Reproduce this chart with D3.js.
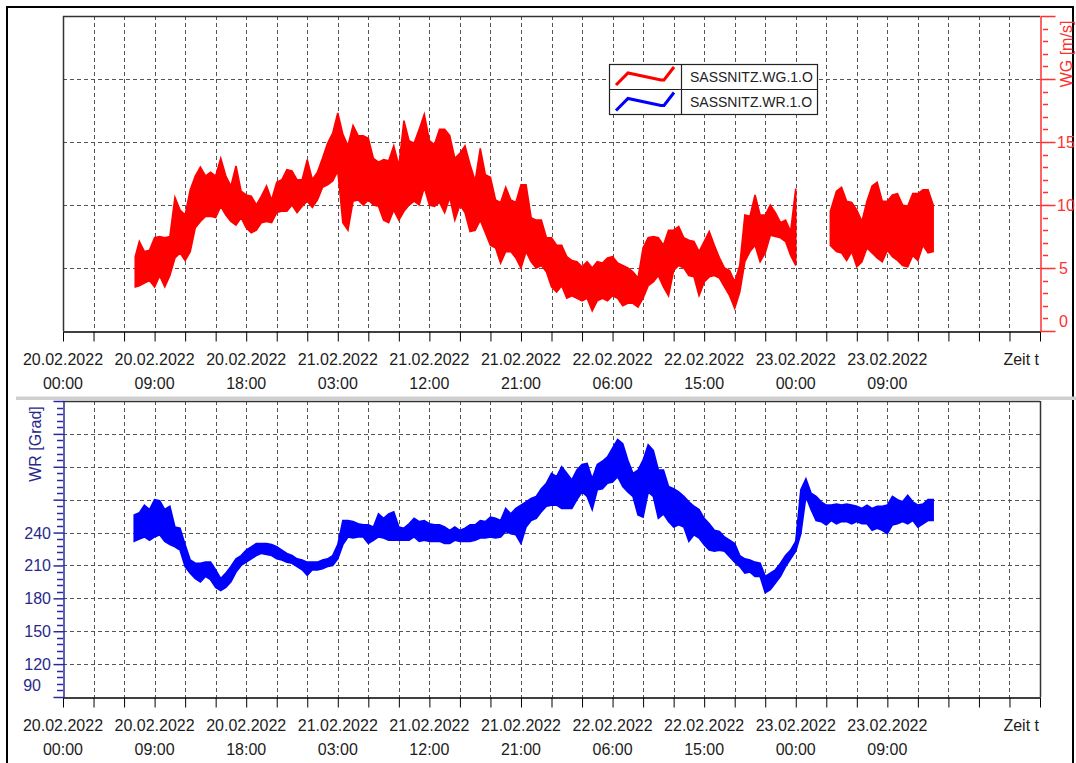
<!DOCTYPE html>
<html><head><meta charset="utf-8">
<script src="https://cdn.jsdelivr.net/npm/d3@7"></script>
<style>
html,body{margin:0;padding:0;background:#fff;}
svg{display:block;font-family:"Liberation Sans",Arial,sans-serif;}
</style></head><body>
<svg id="c" width="1076" height="763"></svg>
<script>
// ---------- DATA (hours after 20.02.2022 00:00) ----------
const seriesNames = ["SASSNITZ.WG.1.O", "SASSNITZ.WR.1.O"];
const axisTitles = ["WG [m/s]", "WR [Grad]"];
const xAxisTitle = "Zeit t";

const wgHours = [7.1,7.5,8,8.5,9,9.5,10,10.5,11,11.5,12,12.5,13,13.5,14,14.5,15,15.5,16,16.5,17,17.5,18,18.5,19,19.5,20,20.5,21,21.5,22,22.5,23,23.5,24,24.5,25,25.5,26,26.5,27,27.5,28,28.5,29,29.5,30,30.5,31,31.5,32,32.5,33,33.5,34,34.5,35,35.5,36,36.5,37,37.5,38,38.5,39,39.5,40,40.5,41,41.5,42,42.5,43,43.5,44,44.5,45,45.5,46,46.5,47,47.5,48,48.5,49,49.5,50,50.5,51,51.5,52,52.5,53,53.5,54,54.5,55,55.5,56,56.5,57,57.5,58,58.5,59,59.5,60,60.5,61,61.5,62,62.5,63,63.5,64,64.5,65,65.5,66,66.5,67,67.5,68,68.5,69,69.5,70,70.5,71,71.5,72,73,75.4,76,76.5,77,77.5,78,78.5,79,79.5,80,80.5,81,81.5,82,82.5,83,83.5,84,84.5,85,85.5];
const wgHigh = [5.9,7.1,6.3,6.4,7.4,7.5,7.4,7.5,10.6,9.6,9.2,11.2,12.3,13.0,12.3,12.6,12.3,13.7,12.3,11.5,13.1,11.1,10.8,10.7,10.0,10.7,11.5,10.4,11.8,12.0,12.8,12.7,12.0,12.0,13.6,12.0,12.6,13.7,14.9,15.7,17.3,15.6,14.7,16.3,15.5,15.5,15.3,13.7,13.4,13.6,13.5,14.7,13.1,16.7,15.1,14.9,16.0,17.2,15.1,14.8,16.0,16.0,15.5,13.7,14.1,14.7,13.2,11.9,14.5,12.4,12.2,10.4,10.2,11.4,10.4,10.2,11.6,11.6,9.0,8.8,8.8,7.4,7.4,6.8,6.8,5.9,5.6,5.5,5.1,5.5,5.0,5.5,5.4,5.8,5.9,5.4,5.2,5.0,4.7,4.2,6.6,7.4,7.5,7.4,6.8,8.0,8.0,8.3,7.4,7.2,7.1,6.3,7.1,7.9,6.8,5.8,5.0,4.8,3.9,5.2,9.2,9.1,10.8,9.2,9.2,10.0,9.4,8.6,8.8,7.9,11.3,null,9.5,11.1,11.4,10.3,10.2,9.6,8.7,10.3,11.5,11.8,10.3,10.3,10.8,10.9,10.0,9.9,10.9,10.9,11.2,11.2,10.0];
const wgLow = [3.5,3.6,3.8,4.0,3.5,4.4,3.5,4.4,5.8,6.2,5.6,6.3,8.2,8.7,9.1,9.1,9.0,9.9,9.2,8.7,8.4,9.0,8.2,7.8,8.0,8.6,8.7,8.6,9.4,9.5,9.5,10.0,9.4,9.9,10.3,9.8,10.4,11.4,11.6,11.9,12.7,8.6,8.0,10.3,10.4,10.0,10.4,10.0,9.9,8.8,8.6,9.6,8.8,9.5,10.0,10.3,10.0,11.4,10.0,9.9,10.2,9.4,10.6,8.8,10.0,9.4,7.9,8.0,8.8,7.8,6.8,6.6,5.4,6.3,6.3,5.8,5.0,6.3,5.5,5.0,5.2,4.7,3.5,3.1,3.6,2.6,2.8,2.6,2.4,2.6,1.6,2.4,2.6,2.4,2.8,2.6,2.0,2.2,2.2,1.9,2.6,3.6,3.9,4.4,3.5,2.8,4.8,5.2,5.0,4.4,4.3,2.8,3.9,4.3,4.4,4.2,3.5,2.8,1.8,3.1,5.5,6.3,6.8,5.5,6.2,7.6,7.5,7.4,7.1,6.0,5.2,null,6.8,6.3,6.2,5.6,6.3,5.1,5.5,6.6,6.2,5.8,5.5,6.4,5.9,5.6,5.2,5.1,6.0,5.6,6.8,6.2,6.3];

const wrHours = [7,7.5,8,8.5,9,9.5,10,10.5,11,11.5,12,12.5,13,13.5,14,14.5,15,15.5,16,16.5,17,17.5,18,18.5,19,19.5,20,20.5,21,21.5,22,22.5,23,23.5,24,24.5,25,25.5,26,26.5,27,27.5,28,28.5,29,29.5,30,30.5,31,31.5,32,32.5,33,33.5,34,34.5,35,35.5,36,36.5,37,37.5,38,38.5,39,39.5,40,40.5,41,41.5,42,42.5,43,43.5,44,44.5,45,45.5,46,46.5,47,47.5,48,48.5,49,49.5,50,50.5,51,51.5,52,52.5,53,53.5,54,54.5,55,55.5,56,56.5,57,57.5,58,58.5,59,59.5,60,60.5,61,61.5,62,62.5,63,63.5,64,64.5,65,65.5,66,66.5,67,67.5,68,68.5,69,69.5,70,70.5,71,71.5,72,72.5,73,73.5,74,74.5,75,75.5,76,76.5,77,77.5,78,78.5,79,79.5,80,80.5,81,81.5,82,82.5,83,83.5,84,84.5,85,85.5];
const wrHigh = [256,258,265,261,270,269,261,264,245,244,229,215,212,212,213,213,206,198,203,209,216,219,224,227,230,230,230,229,227,224,221,219,216,215,213,213,213,215,216,219,229,251,251,250,248,247,247,245,257,253,257,259,245,244,248,253,250,251,248,247,247,245,242,245,242,244,247,247,251,250,254,253,251,262,257,262,265,268,271,273,280,285,294,291,300,294,288,297,302,303,289,302,305,309,317,325,321,306,294,297,306,320,315,297,297,282,280,277,273,268,264,261,253,248,242,241,236,233,230,219,216,215,213,212,200,203,206,212,219,224,232,279,289,276,273,268,265,265,266,265,266,265,264,262,265,262,264,264,265,273,270,268,274,268,265,266,270,270];
const wrLow = [232,234,236,233,236,238,232,229,227,224,209,203,198,195,200,197,190,187,190,195,204,210,213,216,219,221,220,219,216,215,213,212,209,206,201,206,206,207,209,210,216,229,236,235,236,236,230,233,236,235,233,233,233,233,233,236,232,233,232,232,232,230,230,233,232,232,232,233,235,235,236,235,236,241,239,238,230,245,251,253,259,264,265,265,262,262,262,270,277,273,261,279,280,285,286,291,282,277,273,256,254,277,273,253,257,250,245,247,245,232,238,235,229,224,223,224,223,218,213,209,203,204,200,200,185,188,194,200,209,216,223,239,273,261,251,250,247,251,248,250,250,248,250,248,248,242,244,242,239,247,248,250,248,251,245,248,251,251];

const wgTicks = [0,5,10,15,20,25];
const wgLabelTicks = [0,5,10,15];
const wrTicks = [90,120,150,180,210,240,270,300,330,360];
const wrLabelTicks = [90,120,150,180,210,240];
const xTickStepHours = 3;
const xLabelStepHours = 9;
const xSpanHours = 96;

// ---------- LAYOUT ----------
const svg = d3.select("#c");
const L = 63, R = 1040;
const top1 = 16, bot1 = 331;
const top2 = 401, bot2 = 697;
const red = "#ff0000", redAx = "#ff3030";
const blue = "#0000ff", blueAx = "#2a2aa0", blueTx = "#28288c";
const gridC = "#555", txt = "#1c1c1c";

const t0 = Date.UTC(2022, 1, 20, 0, 0);
const hd = h => new Date(t0 + h * 3600e3);
const x = d3.scaleUtc().domain([hd(0), hd(xSpanHours)]).range([L, R]);
const yWG = d3.scaleLinear().domain([0, 25]).range([bot1, top1]);
const yWR = d3.scaleLinear().domain([90, 360]).range([bot2, top2]);

// outer frame
svg.append("path").attr("d", "M7,763 V7 H1073 V763").attr("fill", "none").attr("stroke", "#000").attr("stroke-width", 2);
// splitter
svg.append("rect").attr("x", 16).attr("y", 396.5).attr("width", 1060).attr("height", 3.5).attr("fill", "#cfcfcf");

const xTickDates = d3.utcHour.every(xTickStepHours).range(hd(0), hd(xSpanHours + 0.01));
const fmtD = d3.utcFormat("%d.%m.%Y"), fmtT = d3.utcFormat("%H:%M");

function drawPanel(yScale, yTop, yBot, gridVals) {
  const g = svg.append("g");
  // horizontal grid
  g.selectAll(".hg").data(gridVals).join("line")
    .attr("x1", L).attr("x2", R)
    .attr("y1", d => Math.round(yScale(d)) + 0.5).attr("y2", d => Math.round(yScale(d)) + 0.5)
    .attr("stroke", gridC).attr("stroke-dasharray", "4,3");
  // vertical grid
  g.selectAll(".vg").data(xTickDates.slice(1, -1)).join("line")
    .attr("x1", d => Math.round(x(d)) + 0.5).attr("x2", d => Math.round(x(d)) + 0.5)
    .attr("y1", yTop).attr("y2", yBot)
    .attr("stroke", gridC).attr("stroke-dasharray", "4,3");
  // x axis
  const ax = d3.axisBottom(x).tickValues(xTickDates).tickSize(10).tickSizeOuter(0).tickFormat("");
  const ga = svg.append("g").attr("transform", `translate(0,${yBot + 0.5})`).call(ax);
  ga.select(".domain").attr("stroke", "#000").attr("stroke-width", 1.5);
  ga.selectAll(".tick line").attr("stroke", "#000");
  const labs = xTickDates.filter(d => ((d - t0) / 3600e3) % xLabelStepHours === 0 && (d - t0) / 3600e3 < 90);
  const tl = svg.append("g").attr("font-size", 16).attr("fill", txt).attr("text-anchor", "middle");
  tl.selectAll("text.d").data(labs).join("text").attr("x", d => x(d)).attr("y", yBot + 34).text(d => fmtD(d));
  tl.selectAll("text.t").data(labs).join("text").attr("x", d => x(d)).attr("y", yBot + 58).text(d => fmtT(d));
  svg.append("text").attr("x", R - 1).attr("y", yBot + 34).attr("text-anchor", "end")
    .attr("font-size", 16).attr("fill", txt).text(xAxisTitle);
  // top border
  svg.append("line").attr("x1", L).attr("x2", R).attr("y1", yTop + 0.5).attr("y2", yTop + 0.5)
    .attr("stroke", "#333").attr("stroke-width", 1.5);
}

drawPanel(yWG, top1, bot1, [5, 10, 15, 20]);
drawPanel(yWR, top2, bot2, [120, 150, 180, 210, 240, 270, 300, 330]);

// top panel left border, bottom panel right border
svg.append("line").attr("x1", L + 0.5).attr("x2", L + 0.5).attr("y1", top1).attr("y2", bot1).attr("stroke", "#333").attr("stroke-width", 1.5);
svg.append("line").attr("x1", R + 0.5).attr("x2", R + 0.5).attr("y1", top2).attr("y2", bot2).attr("stroke", "#333").attr("stroke-width", 1.5);

// ---------- DATA BANDS ----------
function band(hours, lo, hi, ys, color) {
  const pts = hours.map((h, i) => ({ t: hd(h), lo: lo[i], hi: hi[i] }));
  const area = d3.area().defined(d => d.lo != null && d.hi != null)
    .x(d => x(d.t)).y0(d => ys(d.lo)).y1(d => ys(d.hi)).curve(d3.curveLinear);
  svg.append("path").datum(pts).attr("d", area)
    .attr("fill", color).attr("stroke", color).attr("stroke-width", 1.6).attr("stroke-linejoin", "miter");
}
band(wgHours, wgLow, wgHigh, yWG, red);
band(wrHours, wrLow, wrHigh, yWR, blue);

// ---------- WG right axis ----------
const gR = svg.append("g").attr("transform", `translate(${R + 0.5},0)`);
gR.call(d3.axisRight(yWG).tickValues(wgTicks).tickSize(15).tickSizeOuter(0).tickFormat(""));
gR.select(".domain").attr("stroke", redAx).attr("stroke-width", 1.5);
gR.selectAll(".tick line").attr("stroke", redAx).attr("stroke-width", 1.5);
const wgMinor = d3.range(1, 25).filter(v => v % 5 !== 0);
svg.append("g").selectAll("line").data(wgMinor).join("line")
  .attr("x1", R + 3).attr("x2", R + 8)
  .attr("y1", d => Math.round(yWG(d)) + 0.5).attr("y2", d => Math.round(yWG(d)) + 0.5)
  .attr("stroke", redAx).attr("stroke-width", 1.5);
svg.append("g").attr("font-size", 16).attr("fill", redAx)
  .selectAll("text").data(wgLabelTicks).join("text")
  .attr("x", d => d < 10 ? 1059 : 1057)
  .attr("y", d => d === 0 ? yWG(d) - 4 : yWG(d) + 6)
  .text(d => d);
svg.append("text").attr("transform", "translate(1072,54) rotate(-90)").attr("text-anchor", "middle")
  .attr("font-size", 16).attr("fill", redAx).text(axisTitles[0]);

// ---------- WR left axis ----------
const gL = svg.append("g").attr("transform", `translate(${L + 0.5},0)`);
gL.call(d3.axisLeft(yWR).tickValues(wrTicks).tickSize(10).tickSizeOuter(0).tickFormat(""));
gL.select(".domain").attr("stroke", blueAx).attr("stroke-width", 1.5);
gL.selectAll(".tick line").attr("stroke", blueAx).attr("stroke-width", 1.5);
const wrMinor = d3.range(96, 360, 6).filter(v => v % 30 !== 0);
svg.append("g").selectAll("line").data(wrMinor).join("line")
  .attr("x1", L - 6).attr("x2", L)
  .attr("y1", d => Math.round(yWR(d)) + 0.5).attr("y2", d => Math.round(yWR(d)) + 0.5)
  .attr("stroke", blueAx).attr("stroke-width", 1.5);
svg.append("g").attr("font-size", 16).attr("fill", blueTx).attr("text-anchor", "end")
  .selectAll("text").data(wrLabelTicks).join("text")
  .attr("x", d => d === 90 ? 41 : 51)
  .attr("y", d => d === 90 ? yWR(d) - 6 : yWR(d) + 6)
  .text(d => d);
svg.append("text").attr("transform", "translate(41,444) rotate(-90)").attr("text-anchor", "middle")
  .attr("font-size", 16).attr("fill", blueTx).text(axisTitles[1]);

// ---------- LEGEND ----------
const lg = svg.append("g");
lg.append("rect").attr("x", 609.5).attr("y", 64.5).attr("width", 208).attr("height", 50)
  .attr("fill", "#fff").attr("stroke", "#222").attr("stroke-width", 1.2);
lg.append("line").attr("x1", 681.5).attr("x2", 681.5).attr("y1", 64.5).attr("y2", 114.5).attr("stroke", "#222").attr("stroke-width", 1.2);
lg.append("line").attr("x1", 609.5).attr("x2", 817.5).attr("y1", 89.5).attr("y2", 89.5).attr("stroke", "#222").attr("stroke-width", 1.2);
const glyph = [[616, 85], [628, 73], [661, 80], [664, 80], [674, 67]];
[red, blue].forEach((c, i) => {
  lg.append("path").attr("d", d3.line()(glyph.map(p => [p[0], p[1] + i * 25.5])))
    .attr("fill", "none").attr("stroke", c).attr("stroke-width", 3);
  lg.append("text").attr("x", 690).attr("y", 81.5 + i * 25.5).attr("font-size", 14).attr("fill", "#222").text(seriesNames[i]);
});
</script>
</body></html>
